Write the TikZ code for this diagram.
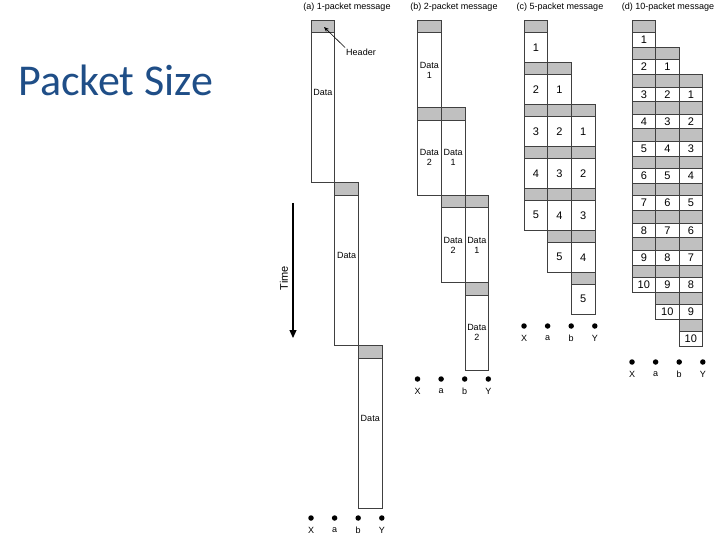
\documentclass[tikz,border=0pt]{standalone}
\usepackage{fontspec}
\setmainfont{Liberation Sans}
\newfontfamily\titlefont{Carlito}
\usetikzlibrary{arrows.meta}
\definecolor{titleblue}{RGB}{31,78,135}
\definecolor{hdrgray}{RGB}{192,192,192}
% cell width and header height (px)
\newcommand{\cw}{23.7}
\newcommand{\hh}{12.5}
% one packet: header box, data box and its label
\newcommand{\pkt}[6][0.5]{%
  \draw[hdr] ({#3},{#4}) rectangle ++(\cw,\hh);
  \draw[cell] ({#3},{#4+\hh}) rectangle ++(\cw,{#5});
  \node[lbl] (#2) at ({#3+\cw/2},{#4+\hh+#1*#5}) {#6};
}

\begin{document}
\begin{tikzpicture}[
    x=1pt, y=-1pt,
    hdr/.style={draw=black!75, fill=hdrgray, line width=.6pt},
    cell/.style={draw=black!75, fill=white, line width=.6pt},
    lbl/.style={font=\fontsize{9}{10}\selectfont, align=center, inner sep=1pt},
    ttl/.style={font=\fontsize{9}{10}\selectfont, inner sep=1pt},
    dot/.style={circle, fill=black, inner sep=0pt, minimum size=5.5pt},
]
\useasboundingbox (0,0) rectangle (720,540);
% slide title
\node[font=\titlefont\fontsize{44}{48}\selectfont, text=titleblue, anchor=base west, inner sep=0pt]
      (title) at (18,96) {Packet Size};
% panel captions
\node[ttl] (capa) at (347,7) {(a) 1-packet message};
\node[ttl] (capb) at (454,7) {(b) 2-packet message};
\node[ttl] (capc) at (560,7) {(c) 5-packet message};
\node[ttl] (capd) at (668,7) {(d) 10-packet message};
% (a) one packet
\foreach \c in {0,1,2}
  \pkt[0.4]{pa\c}{311+\c*23.7}{20+\c*162.8}{150}{Data};
\node[lbl] (hdrlbl) at (361,52) {Header};
\coordinate (hptr) at (324,27);
\draw[-{Stealth[length=5pt,width=4pt]}, line width=.6pt] (hdrlbl.north west) -- (hptr);
% (b) two packets
\foreach \c in {0,1,2}
  \foreach \k in {1,2}
    \pkt{pb\c\k}{417.5+\c*23.7}{20+(\c+\k-1)*87.5}{75}{Data\\\k};
% (c) five packets
\begin{scope}[lbl/.append style={font=\fontsize{11}{12}\selectfont}]
\foreach \c in {0,1,2}
  \foreach \k in {1,...,5}
    \pkt{pc\c\k}{524+\c*23.7}{20+(\c+\k-1)*42}{29.5}{\k};
\end{scope}
% (d) ten packets
\begin{scope}[lbl/.append style={font=\fontsize{11}{12}\selectfont}]
\foreach \c in {0,1,2}
  \foreach \k in {1,...,10}
    \pkt{pd\c\k}{632+\c*23.5}{20+(\c+\k-1)*27.2}{14.7}{\k};
\end{scope}
% stations under each panel
\foreach \p/\x/\y in {a/311/518, b/417.5/379, c/524/326, d/632/362}
  \foreach \n [count=\i from 0] in {X,a,b,Y} {
    \node[dot] (s\p\n) at ({\x+\i*23.6},\y) {};
    \node[lbl] (l\p\n) at ({\x+\i*23.6},{\y+12.5}) {\n};
  }
% time axis
\coordinate (tA) at (293,203);
\coordinate (tB) at (293,338);
\draw[-{Triangle[length=8pt,width=7pt]}, line width=1.2pt] (tA) -- (tB);
\node[lbl, rotate=90, font=\fontsize{11}{12}\selectfont] (time) at (284,278) {Time};
\end{tikzpicture}
\end{document}
